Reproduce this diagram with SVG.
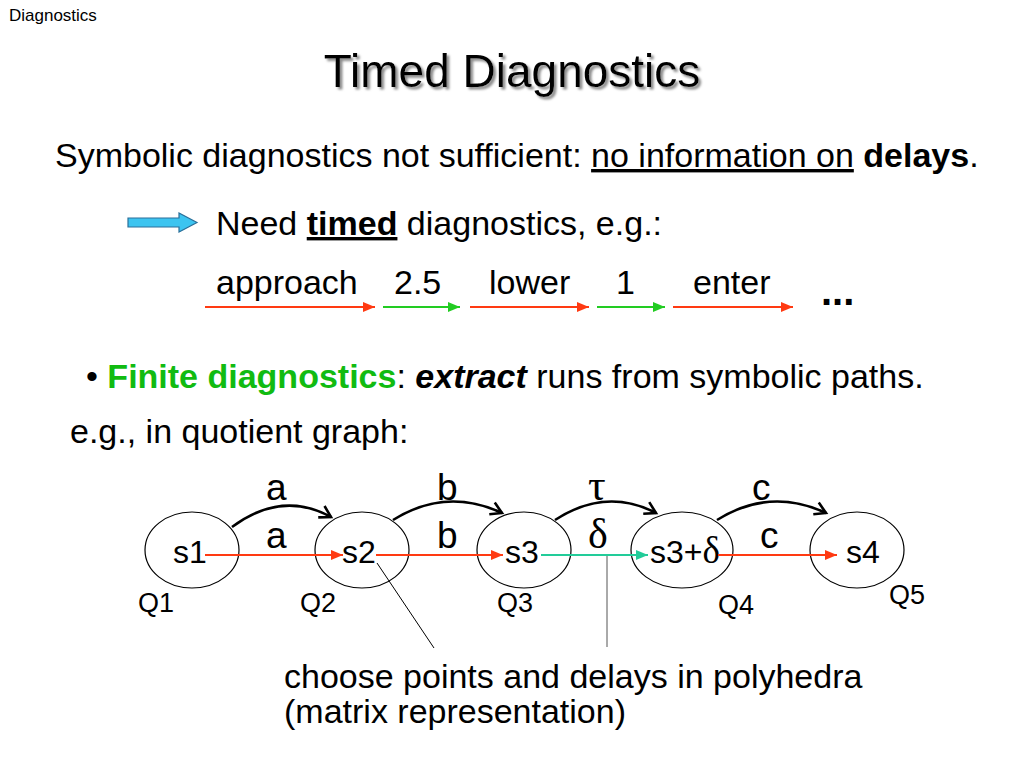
<svg xmlns="http://www.w3.org/2000/svg" width="1024" height="768" viewBox="0 0 1024 768">
<style>
text{font-family:"Liberation Sans",Arial,sans-serif;fill:#000}
.t28{font-size:34px}
.lbl{font-size:37px}
.st{font-size:32px}
.q{font-size:27px}
.greek{font-family:"Liberation Serif","DejaVu Serif",serif}
.node{fill:none;stroke:#000;stroke-width:1.2}
.red{stroke:#ff3a12;stroke-width:2;fill:none}
.grn{stroke:#22cc22;stroke-width:2;fill:none}
.teal{stroke:#22cc99;stroke-width:2;fill:none}
.curve{stroke:#000;stroke-width:2.6;fill:none}
.pointer{stroke:#000;stroke-width:1;fill:none}
</style>
<defs>
<filter id="shadow" x="-5%" y="-20%" width="110%" height="140%"><feDropShadow dx="2.5" dy="2.5" stdDeviation="1" flood-color="#8a8a8a" flood-opacity="1"/></filter>
<marker id="mRed" markerUnits="userSpaceOnUse" markerWidth="14" markerHeight="12" refX="12" refY="5" orient="auto"><path d="M0,0 L12,5 L0,10 Z" fill="#ff3a12"/></marker>
<marker id="mGrn" markerUnits="userSpaceOnUse" markerWidth="14" markerHeight="12" refX="12" refY="5" orient="auto"><path d="M0,0 L12,5 L0,10 Z" fill="#22cc22"/></marker>
<marker id="mTeal" markerUnits="userSpaceOnUse" markerWidth="14" markerHeight="12" refX="12" refY="5" orient="auto"><path d="M0,0 L12,5 L0,10 Z" fill="#22cc99"/></marker>
<marker id="mOpen" markerUnits="userSpaceOnUse" markerWidth="16" markerHeight="16" refX="12" refY="8" orient="auto"><path d="M1,1.5 L12,8 L1,14.5" fill="none" stroke="#000" stroke-width="2.6"/></marker>
</defs>

<text x="9" y="21" style="font-size:17px">Diagnostics</text>

<g id="title">
<text x="512" y="87" text-anchor="middle" filter="url(#shadow)" style="font-size:46px">Timed Diagnostics</text>
</g>

<text class="t28" x="55" y="167">Symbolic diagnostics not sufficient: <tspan text-decoration="underline">no information on</tspan> <tspan font-weight="bold">delays</tspan>.</text>

<g id="blue-arrow">
<path d="M128,218 L179,218 L179,213 L197,222.5 L179,232 L179,227 L128,227 Z" fill="#3cc4f0" stroke="#2a6f99" stroke-width="1.2"/>
</g>
<text class="t28" x="216" y="235">Need <tspan font-weight="bold" text-decoration="underline">timed</tspan> diagnostics, e.g.:</text>

<g id="run">
<text class="t28" x="216" y="294">approach</text>
<text class="t28" x="394" y="294">2.5</text>
<text class="t28" x="489" y="294">lower</text>
<text class="t28" x="616" y="294">1</text>
<text class="t28" x="693" y="294">enter</text>
<text x="821" y="305" style="font-size:40px;font-weight:bold">...</text>
</g>
<g id="run-connectors">
<line class="red" x1="205" y1="307" x2="375" y2="307" marker-end="url(#mRed)"/>
<line class="grn" x1="383" y1="307" x2="460" y2="307" marker-end="url(#mGrn)"/>
<line class="red" x1="470" y1="307" x2="589" y2="307" marker-end="url(#mRed)"/>
<line class="grn" x1="597" y1="307" x2="665" y2="307" marker-end="url(#mGrn)"/>
<line class="red" x1="673" y1="307" x2="793" y2="307" marker-end="url(#mRed)"/>
</g>

<text class="t28" x="86" y="388">• <tspan font-weight="bold" style="fill:#11bb11">Finite diagnostics</tspan>: <tspan font-weight="bold" font-style="italic">extract</tspan> runs from symbolic paths.</text>
<text class="t28" x="70" y="443">e.g., in quotient graph:</text>

<g id="Q1">
<ellipse class="node" cx="192" cy="550" rx="47" ry="38"/>
<text class="st" x="173" y="563">s1</text>
<text class="q" x="138" y="612">Q1</text>
</g>
<g id="Q2">
<ellipse class="node" cx="362" cy="550" rx="47" ry="38"/>
<text class="st" x="342" y="563">s2</text>
<text class="q" x="300" y="612">Q2</text>
</g>
<g id="Q3">
<ellipse class="node" cx="524" cy="550" rx="47" ry="38"/>
<text class="st" x="505" y="563">s3</text>
<text class="q" x="497" y="612">Q3</text>
</g>
<g id="Q4">
<ellipse class="node" cx="682" cy="550" rx="51" ry="38"/>
<text class="st" x="650" y="563">s3+<tspan class="greek" style="font-size:37px">δ</tspan></text>
<text class="q" x="718" y="614">Q4</text>
</g>
<g id="Q5">
<ellipse class="node" cx="857" cy="550" rx="47" ry="38"/>
<text class="st" x="846" y="563">s4</text>
<text class="q" x="889" y="604">Q5</text>
</g>

<g id="connectors">
<path class="curve" d="M232,527 Q282,490 331,517" marker-end="url(#mOpen)"/>
<path class="curve" d="M393,520 Q446,487 502,513" marker-end="url(#mOpen)"/>
<path class="curve" d="M555,520 Q606,487 656,513" marker-end="url(#mOpen)"/>
<path class="curve" d="M717,520 Q770,487 826,513" marker-end="url(#mOpen)"/>
<line class="red" x1="205" y1="555" x2="343" y2="555" marker-end="url(#mRed)"/>
<line class="red" x1="376" y1="555" x2="503" y2="555" marker-end="url(#mRed)"/>
<line class="teal" x1="541" y1="555" x2="648" y2="555" marker-end="url(#mTeal)"/>
<line class="red" x1="718" y1="555" x2="837" y2="555" marker-end="url(#mRed)"/>
<line class="pointer" x1="377" y1="563" x2="434" y2="648"/>
<line class="pointer" x1="607" y1="556" x2="607" y2="647" style="stroke:#555"/>
</g>

<g id="edge-labels">
<text class="lbl" x="266" y="500">a</text>
<text class="lbl" x="266" y="548">a</text>
<text class="lbl" x="437" y="500">b</text>
<text class="lbl" x="437" y="548">b</text>
<text class="lbl greek" x="588" y="500" style="font-size:44px">τ</text>
<text class="lbl greek" x="588" y="548" style="font-size:42px">δ</text>
<text class="lbl" x="752" y="500">c</text>
<text class="lbl" x="760" y="548">c</text>
</g>

<text class="t28" x="284" y="688">choose points and delays in polyhedra<tspan x="284" dy="35">(matrix representation)</tspan></text>
</svg>
